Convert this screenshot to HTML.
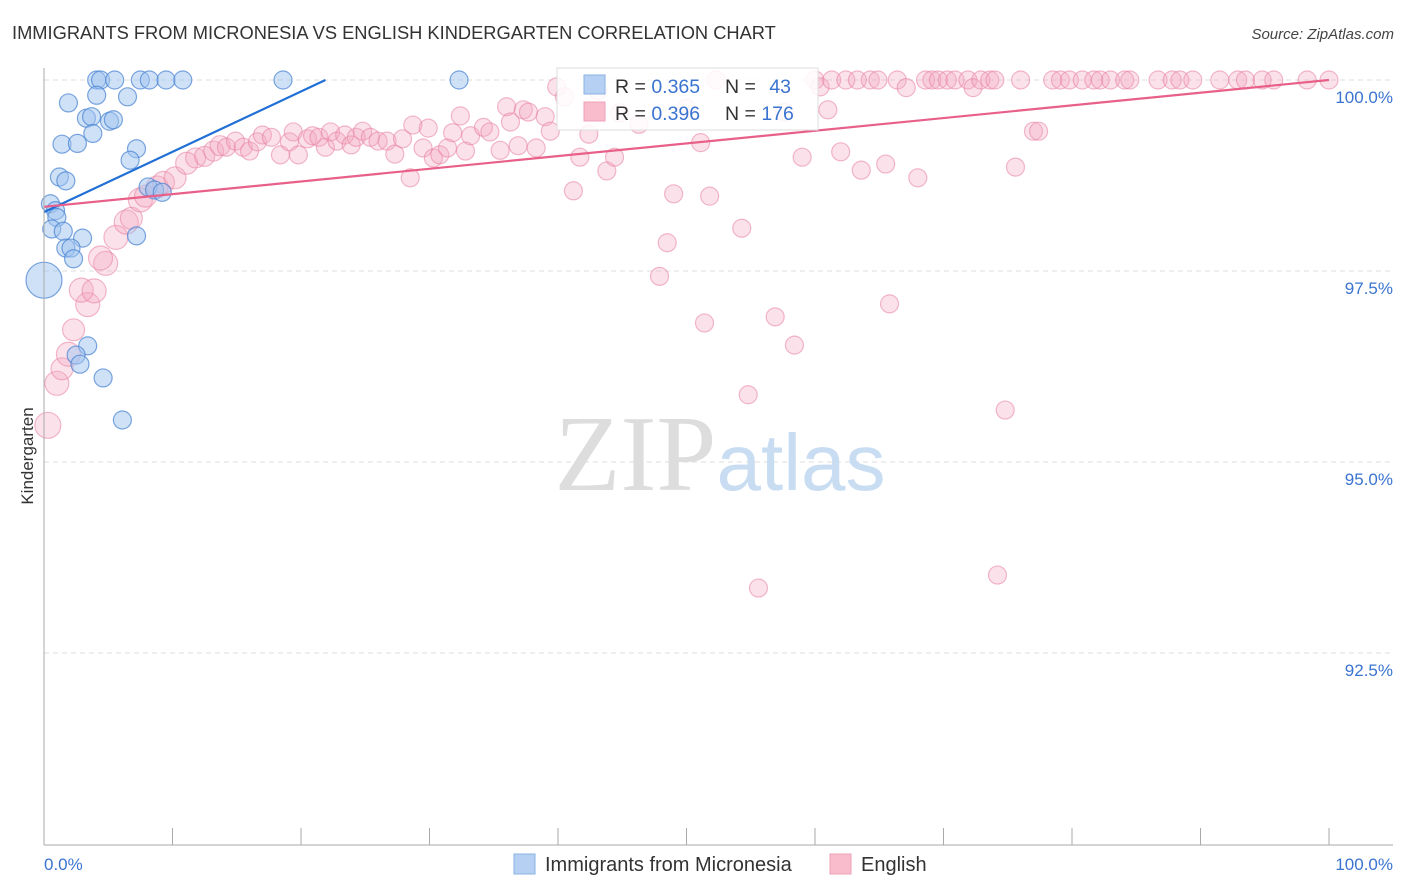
<!DOCTYPE html>
<html><head><meta charset="utf-8"><style>
body{margin:0;background:#fff;font-family:"Liberation Sans",sans-serif;}
</style></head><body>
<svg id="chart" width="1406" height="892" xmlns="http://www.w3.org/2000/svg" style="display:block">
<text x="12" y="39" font-size="18.3" fill="#333">IMMIGRANTS FROM MICRONESIA VS ENGLISH KINDERGARTEN CORRELATION CHART</text>
<text x="1394" y="39" font-size="15" fill="#444" text-anchor="end" font-style="italic">Source: ZipAtlas.com</text>
<g id="grid"></g>
<text x="720" y="490" font-size="108" fill="#ddd" font-family="Liberation Serif" text-anchor="middle">ZIP<tspan fill="#c8dcf2" font-family="Liberation Sans" font-size="80">atlas</tspan></text>
<g id="pts"></g>
<g id="lines"></g>
<g id="axes"></g>
<text transform="translate(33,456) rotate(-90)" font-size="17" fill="#333" text-anchor="middle">Kindergarten</text>
<g>
<rect x="557" y="68" width="261" height="62" fill="#fff" fill-opacity="0.85" stroke="#ddd"/>
<rect x="584" y="75" width="21" height="19" fill="#b5d0f3" stroke="#8ab2e6"/>
<rect x="584" y="102" width="21" height="19" fill="#f8bccd" stroke="#eea0b8"/>
<text x="615" y="93" font-size="19.5" fill="#333">R = <tspan fill="#3a74d0">0.365</tspan></text>
<text x="725" y="93" font-size="19.5" fill="#333">N = <tspan fill="#3a74d0" dx="8">43</tspan></text>
<text x="615" y="120" font-size="19.5" fill="#333">R = <tspan fill="#3a74d0">0.396</tspan></text>
<text x="725" y="120" font-size="19.5" fill="#333">N = <tspan fill="#3a74d0">176</tspan></text>
</g>
<g>
<rect x="514" y="854" width="21" height="20" fill="#b5d0f3" stroke="#8ab2e6"/>
<text x="545" y="871" font-size="20" fill="#333">Immigrants from Micronesia</text>
<rect x="830" y="854" width="21" height="20" fill="#f8bccd" stroke="#eea0b8"/>
<text x="861" y="871" font-size="20" fill="#333">English</text>
</g>
</svg>
<script>
const NS="http://www.w3.org/2000/svg";
const yTicks=[100,97.5,95,92.5];
const yTickLabels=["100.0%","97.5%","95.0%","92.5%"];
const xTickCount=10;
const xLabels=["0.0%","100.0%"];
const blueX=[4.1,4.4,5.5,7.5,8.2,9.5,10.8,18.6,32.3,1.9,4.1,6.5,3.3,3.7,5.1,5.4,3.8,1.4,2.6,7.2,6.7,1.2,1.7,8.1,8.6,9.2,0.5,0.9,1.0,0.6,1.5,3.0,1.7,2.1,2.3,7.2,0,3.4,2.5,2.8,4.6,6.1];
const blueY=[100,100,100,100,100,100,100,100,100,99.7,99.8,99.78,99.5,99.52,99.46,99.48,99.3,99.16,99.17,99.1,98.95,98.73,98.68,98.6,98.56,98.53,98.38,98.29,98.2,98.05,98.02,97.93,97.8,97.8,97.66,97.96,97.38,96.52,96.4,96.28,96.1,95.55];
const blueR=[9,9,9,9,9,9,9,9,9,9,9,9,9,9,9,9,9,9,9,9,9,9,9,9,9,9,9,9,9,9,9,9,9,9,9,9,18,9,9,9,9,9];
const pinkX=[0.3,1.0,1.4,1.9,2.3,3.4,2.9,3.9,4.8,4.4,5.6,6.4,6.8,7.5,7.9,8.8,9.3,10.2,11.1,11.8,12.5,13.2,13.7,14.2,14.9,15.5,16.0,16.6,17.0,17.7,18.4,19.1,19.4,19.8,20.5,20.9,21.4,21.9,22.3,22.8,23.4,23.9,24.3,24.8,25.4,26.0,26.7,27.3,27.9,28.5,28.7,29.5,29.9,30.3,30.8,31.4,31.8,32.4,32.8,33.2,34.2,34.7,35.5,36.0,36.3,36.9,37.3,37.7,38.3,39.0,39.4,39.9,40.5,41.2,41.7,42.4,43.1,43.8,44.4,44.8,46.3,47.9,48.5,49.0,50.0,51.1,51.4,51.8,52.3,54.3,54.8,55.6,56.9,57.6,58.4,59.0,60.0,60.4,61.0,61.3,62.0,62.4,63.3,63.6,64.3,64.9,65.5,65.8,66.4,67.1,68.0,68.6,69.1,69.6,70.3,70.9,71.9,72.3,72.9,73.6,74.0,74.2,74.8,75.6,76.0,77.0,77.4,78.5,79.1,79.8,80.8,81.7,82.2,83.0,84.1,84.5,86.7,87.8,88.4,89.4,91.5,92.9,93.5,94.8,95.7,98.3,100];
const pinkY=[95.48,96.03,96.22,96.41,96.73,97.06,97.25,97.24,97.6,97.67,97.94,98.14,98.19,98.43,98.48,98.6,98.66,98.72,98.91,98.98,99.0,99.07,99.14,99.12,99.2,99.12,99.07,99.19,99.28,99.25,99.02,99.19,99.32,99.02,99.23,99.27,99.25,99.12,99.32,99.2,99.28,99.15,99.25,99.33,99.25,99.2,99.2,99.03,99.23,98.72,99.41,99.11,99.37,98.98,99.02,99.11,99.31,99.53,99.07,99.27,99.38,99.32,99.08,99.65,99.45,99.14,99.61,99.58,99.11,99.52,99.33,99.91,99.78,98.55,98.99,99.29,99.86,98.81,98.99,99.57,99.42,97.43,97.87,98.51,99.63,99.18,96.82,98.48,100,98.06,95.88,93.35,96.9,99.58,96.53,98.99,100,99.91,99.61,100,99.06,100,100,98.82,100,100,98.9,97.07,100,99.9,98.72,100,100,100,100,100,100,99.9,100,100,100,93.52,95.68,98.86,100,99.33,99.33,100,100,100,100,100,100,100,100,100,100,100,100,100,100,100,100,100,100,100,100];
const pinkR=[13,12,11,12,11,12,12,12,12,12,12,12,11,12,11,11,11,11,11,10,10,10,10,9,9,9,9];
const trendBlue=[0,98.27,21.9,100];
const trendPink=[0,98.34,100,100];
const X0=44,X1=1329,Y100=80,PXPER=76.4;
const sx=v=>X0+(X1-X0)*v/100;
const sy=v=>Y100+(100-v)*PXPER;
function mk(tag,attrs,parent){const e=document.createElementNS(NS,tag);for(const k in attrs)e.setAttribute(k,attrs[k]);parent.appendChild(e);return e;}
const grid=document.getElementById('grid'),axes=document.getElementById('axes'),pts=document.getElementById('pts'),lines=document.getElementById('lines');
yTicks.forEach((t,i)=>{
 const l=mk('line',{x1:44,x2:1393,y1:sy(t),y2:sy(t),stroke:'#ddd','stroke-dasharray':'5,4'},grid);
 
 
 const tx=mk('text',{x:1393,y:sy(t)+23,'font-size':17,fill:'#3a74d0','text-anchor':'end'},axes);
 tx.textContent=yTickLabels[i];
 
 
});
const al=mk('line',{x1:44,x2:44,y1:68,y2:845,stroke:'#aaa'},axes);


const bl=mk('line',{x1:44,x2:1393,y1:845,y2:845,stroke:'#aaa'},axes);


for(let i=0;i<=xTickCount;i++){
 const t=mk('line',{x1:sx(i*10),x2:sx(i*10),y1:828,y2:845,stroke:'#aaa'},axes);
 
 
}
const xl0=mk('text',{x:44,y:870,'font-size':17,fill:'#3a74d0'},axes);xl0.textContent=xLabels[0];


const xl1=mk('text',{x:1393,y:870,'font-size':17,fill:'#3a74d0','text-anchor':'end'},axes);xl1.textContent=xLabels[1];


pinkX.forEach((x,i)=>{
 if(pinkY[i]===undefined)return;
 const c=mk('circle',{cx:sx(x),cy:sy(pinkY[i]),r:pinkR[i]||9,fill:'rgba(244,164,190,0.32)',stroke:'rgba(232,128,160,0.55)','stroke-width':1.2},pts);
 
 
});
blueX.forEach((x,i)=>{
 const c=mk('circle',{cx:sx(x),cy:sy(blueY[i]),r:blueR[i],fill:'rgba(160,196,240,0.5)',stroke:'rgba(70,130,210,0.7)','stroke-width':1.2},pts);
 
 
});
const lb=mk('line',{x1:sx(trendBlue[0]),y1:sy(trendBlue[1]),x2:sx(trendBlue[2]),y2:sy(trendBlue[3]),stroke:'#1f6fd6','stroke-width':2.2},lines);


const lp=mk('line',{x1:sx(trendPink[0]),y1:sy(trendPink[1]),x2:sx(trendPink[2]),y2:sy(trendPink[3]),stroke:'#e8608a','stroke-width':2.2},lines);


</script>
</body></html>
